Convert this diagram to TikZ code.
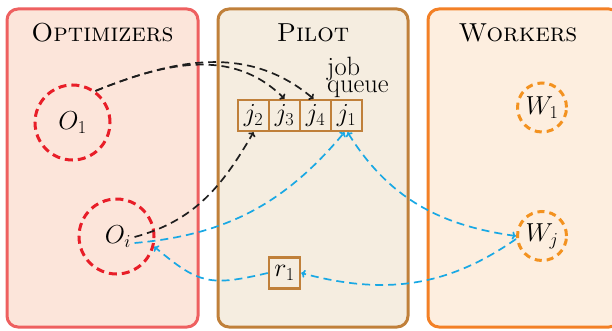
\RequirePackage{fix-cm}
\documentclass[tikz,border=0pt]{standalone}
\usetikzlibrary{arrows.meta}
\definecolor{optfill}{RGB}{252,229,218}
\definecolor{optdraw}{RGB}{238,96,96}
\definecolor{pilfill}{RGB}{245,237,224}
\definecolor{pildraw}{RGB}{192,128,58}
\definecolor{wrkfill}{RGB}{253,238,223}
\definecolor{wrkdraw}{RGB}{243,128,38}
\definecolor{cred}{RGB}{232,30,40}
\definecolor{corange}{RGB}{243,146,32}
\definecolor{ccyan}{RGB}{25,168,228}
\definecolor{cblack}{RGB}{30,30,30}
\newcommand\jqfont{\fontsize{26.5}{16.5}\selectfont\lineskiplimit=-20pt\relax}
\tikzset{
  big/.style={font=\fontsize{26}{31}\selectfont},
  panel/.style={line width=3pt, rounded corners=11pt},
  title/.style={big, anchor=base, inner sep=0pt},
  optc/.style={circle, draw=cred, line width=3pt, dash pattern=on 8pt off 5pt, minimum size=75pt, inner sep=0pt, big},
  wrkc/.style={circle, draw=corange, line width=3pt, dash pattern=on 7pt off 5pt, minimum size=49pt, inner sep=0pt, big},
  cell/.style={draw=pildraw, line width=2.4pt, minimum size=31pt, inner sep=0pt, big},
  conn/.style={line width=1.7pt, dash pattern=on 8pt off 5pt, -{To[length=4pt,width=8pt]}},
  blk/.style={conn, draw=cblack},
  cyn/.style={conn, draw=ccyan},
}
\begin{document}
\begin{tikzpicture}[x=1pt,y=1pt]
\useasboundingbox (0,0) rectangle (612,330);
% panels
\draw[panel, draw=optdraw, fill=optfill] (7,3) rectangle (198,321);
\draw[panel, draw=pildraw, fill=pilfill] (218,3) rectangle (408,321);
\draw[panel, draw=wrkdraw, fill=wrkfill] (428,3) rectangle (620,321);
\node[title] (topt) at (102.5,288) {\textsc{Optimizers}};
\node[title] (tpil) at (313,288) {\textsc{Pilot}};
\node[title] (twrk) at (518,288) {\textsc{Workers}};
% optimizers
\node[optc] (o1) at (72.5,207.5) {$O_1$};
\node[optc] (oic) at (116.5,93.5) {};
\node[big] (oi) at (118,93) {$O_i$};
% workers
\node[wrkc] (w1) at (542,222.5) {$W_1$};
\node[wrkc] (wj) at (542,94) {$W_j$};
% job queue
\node[cell] (j2) at (253.5,214.5) {$j_2$};
\node[cell] (j3) at (284.5,214.5) {$j_3$};
\node[cell] (j4) at (315.5,214.5) {$j_4$};
\node[cell] (j1) at (346.5,214.5) {$j_1$};
\node[font=\jqfont, align=left, anchor=north west, inner sep=0pt] (jq) at (327,272.7) {job\\queue};
\node[cell] (r1) at (284.5,57) {$r_1$};
% connectors
\draw[blk] (o1.54) to[out=22,in=135] (j3.north);
\draw[blk] (o1.54) to[out=22,in=140] ([xshift=-2pt]j4.north);
\draw[blk] (oi.east) to[out=15,in=-120] (j2.south);
\draw[cyn] ([yshift=-6pt]oi.east) to[out=5,in=-130] ([xshift=-2pt]j1.south);
\draw[cyn, {To[length=4pt,width=8pt]}-{To[length=4pt,width=8pt]}] ([xshift=1pt]j1.south) to[out=-58,in=172] (wj.west);
\draw[cyn] ([yshift=-3pt]wj.west) to[out=215,in=-15] (r1.east);
\draw[cyn] (r1.west) to[out=193,in=-40,looseness=1.3] (oic.-15);
\end{tikzpicture}
\end{document}
